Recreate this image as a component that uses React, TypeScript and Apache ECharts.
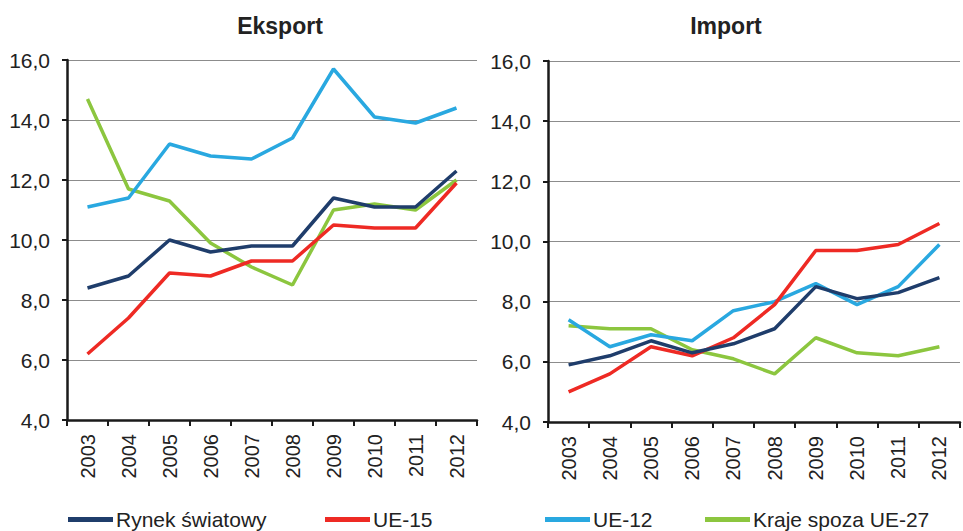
import React, { useEffect, useRef } from "react";
import * as echarts from "echarts";

const years = ["2003", "2004", "2005", "2006", "2007", "2008", "2009", "2010", "2011", "2012"];
const seriesNames = ["Rynek światowy", "UE-15", "UE-12", "Kraje spoza UE-27"];
const colors = ["#1F3D6B", "#EE2A24", "#29A8E0", "#8CC63F"];

const eksportRynek = [8.4, 8.8, 10.0, 9.6, 9.8, 9.8, 11.4, 11.1, 11.1, 12.3];
const eksportUE15 = [6.2, 7.4, 8.9, 8.8, 9.3, 9.3, 10.5, 10.4, 10.4, 11.9];
const eksportUE12 = [11.1, 11.4, 13.2, 12.8, 12.7, 13.4, 15.7, 14.1, 13.9, 14.4];
const eksportKraje = [14.7, 11.7, 11.3, 9.9, 9.1, 8.5, 11.0, 11.2, 11.0, 12.0];

const importRynek = [5.9, 6.2, 6.7, 6.3, 6.6, 7.1, 8.5, 8.1, 8.3, 8.8];
const importUE15 = [5.0, 5.6, 6.5, 6.2, 6.8, 7.9, 9.7, 9.7, 9.9, 10.6];
const importUE12 = [7.4, 6.5, 6.9, 6.7, 7.7, 8.0, 8.6, 7.9, 8.5, 9.9];
const importKraje = [7.2, 7.1, 7.1, 6.4, 6.1, 5.6, 6.8, 6.3, 6.2, 6.5];

const titles = ["Eksport", "Import"];

const FONT = "Liberation Sans, Arial, sans-serif";

export default function App() {
  const ref = useRef<HTMLDivElement>(null);
  useEffect(() => {
    if (!ref.current) return;
    const chart = echarts.init(ref.current, undefined, { renderer: "svg" });
    const eks = [eksportRynek, eksportUE15, eksportUE12, eksportKraje];
    const imp = [importRynek, importUE15, importUE12, importKraje];
    const mkX = (gi: number) => ({
      type: "category",
      gridIndex: gi,
      data: years,
      boundaryGap: true,
      axisLine: { lineStyle: { color: "#1a1a1a", width: 2.5 } },
      axisTick: { show: true, length: 6, lineStyle: { color: "#1a1a1a", width: 2 } },
      axisLabel: { rotate: 90, color: "#222", fontSize: 20, fontFamily: FONT, margin: 14 },
    });
    const mkY = (gi: number) => ({
      type: "value",
      gridIndex: gi,
      min: 4,
      max: 16,
      interval: 2,
      axisLine: { show: true, lineStyle: { color: "#1a1a1a", width: 2.5 } },
      axisTick: { show: true, length: 5, lineStyle: { color: "#1a1a1a", width: 2 } },
      splitLine: { show: true, lineStyle: { color: "#8c8c8c", width: 1 } },
      axisLabel: {
        color: "#222",
        fontSize: 21,
        fontFamily: FONT,
        margin: 17,
        formatter: (v: number) => v.toFixed(1).replace(".", ","),
      },
    });
    const series: any[] = [];
    [eks, imp].forEach((set, gi) => {
      set.forEach((d, i) => {
        series.push({
          type: "line",
          name: seriesNames[i],
          xAxisIndex: gi,
          yAxisIndex: gi,
          data: d,
          symbol: "none",
          lineStyle: { width: 3.5, color: colors[i] },
          itemStyle: { color: colors[i] },
          z: i === 0 ? 6 : 5 - i,
        });
      });
    });
    const legendPos = [68, 325, 545, 705];
    const titleStyle = { fontFamily: FONT, fontSize: 23, fontWeight: "bold", color: "#222" };
    chart.setOption({
      animation: false,
      title: [
        { text: titles[0], left: 275, top: 9, textAlign: "center", textStyle: titleStyle },
        { text: titles[1], left: 721, top: 9, textAlign: "center", textStyle: titleStyle },
      ],
      grid: [
        { left: 67, right: 486, top: 60, bottom: 111, containLabel: false },
        { left: 548, right: 3, top: 61, bottom: 109, containLabel: false },
      ],
      xAxis: [mkX(0), mkX(1)],
      yAxis: [mkY(0), mkY(1)],
      legend: seriesNames.map((n, i) => ({
        data: [n],
        left: legendPos[i],
        top: 509,
        itemWidth: 45,
        itemHeight: 5,
        itemGap: 4,
        icon: "rect",
        textStyle: { fontFamily: FONT, fontSize: 21, color: "#222", padding: [0, 0, 0, -2] },
        padding: 0,
      })),
      series,
    });
    return () => chart.dispose();
  }, []);
  return <div ref={ref} style={{ width: 963, height: 531, position: "absolute", left: 0, top: 0, background: "#fff" }} />;
}
